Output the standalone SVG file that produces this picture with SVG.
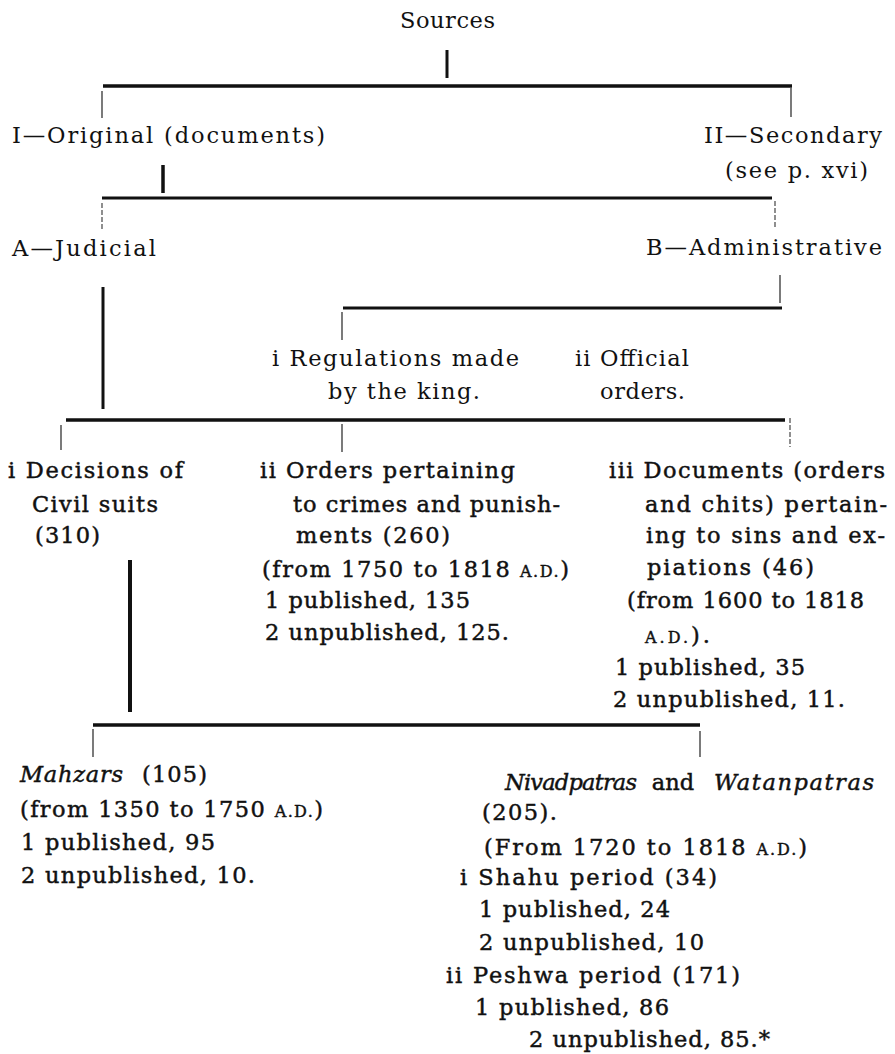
<svg xmlns="http://www.w3.org/2000/svg" width="895" height="1054" viewBox="0 0 895 1054">
<style>
  text { font-family: "DejaVu Serif", "Liberation Serif", serif; font-size: 22.5px; fill: #111; }
  .hv { stroke: #111; stroke-width: 0.45; }
  .it { font-style: italic; }
  .sc { font-size: 16px; }
  .thick { stroke: #111; stroke-width: 3.5; fill: none; }
  .med { stroke: #111; stroke-width: 3; fill: none; }
  .thin { stroke: #222; stroke-width: 1.2; fill: none; }
  .dash { stroke: #333; stroke-width: 1.1; fill: none; stroke-dasharray: 5 2; }
</style>
<rect width="895" height="1054" fill="#ffffff"/>

<g id="connectors">
  <line class="med" x1="447" y1="50" x2="447" y2="78"/>
  <line class="thick" x1="103" y1="86" x2="792" y2="86"/>
  <line class="thin" x1="102" y1="91" x2="102" y2="118"/>
  <line class="thin" x1="791" y1="88" x2="791" y2="117"/>

  <line class="thick" x1="163" y1="165" x2="163" y2="193"/>
  <line class="med" x1="102" y1="198" x2="772" y2="198"/>
  <line class="dash" x1="102" y1="203" x2="102" y2="230"/>
  <line class="dash" x1="775" y1="201" x2="775" y2="228"/>

  <line class="med" x1="103" y1="287" x2="103" y2="409"/>
  <line class="thin" x1="780" y1="275" x2="780" y2="303"/>
  <line class="med" x1="343" y1="308" x2="782" y2="308"/>
  <line class="thin" x1="342" y1="312" x2="342" y2="340"/>

  <line class="thick" x1="66" y1="420" x2="785" y2="420"/>
  <line class="thin" x1="61" y1="425" x2="61" y2="450"/>
  <line class="thin" x1="342" y1="424" x2="342" y2="452"/>
  <line class="dash" x1="790" y1="418" x2="790" y2="447"/>

  <line class="thick" x1="130" y1="560" x2="130" y2="712" style="stroke-width:4"/>
  <line class="thick" x1="93" y1="725" x2="700" y2="725"/>
  <line class="thin" x1="93" y1="729" x2="93" y2="757"/>
  <line class="thin" x1="700" y1="731" x2="700" y2="757"/>
</g>

<g id="sources">
  <text x="400" y="28" textLength="95">Sources</text>
</g>

<g id="original">
  <text x="12" y="143" textLength="313">I—Original  (documents)</text>
</g>

<g id="secondary">
  <text x="704" y="143" textLength="178">II—Secondary</text>
  <text x="725" y="178" textLength="143">(see p. xvi)</text>
</g>

<g id="judicial">
  <text x="12" y="256" textLength="144">A—Judicial</text>
</g>

<g id="administrative">
  <text x="646" y="255" textLength="236">B—Administrative</text>
</g>

<g id="regulations">
  <text x="272" y="366" textLength="247">i Regulations made</text>
  <text x="328" y="399" textLength="152">by the king.</text>
</g>

<g id="official">
  <text x="575" y="366" textLength="114">ii Official</text>
  <text x="600" y="399" textLength="85">orders.</text>
</g>

<g id="civil">
  <text class="hv" x="8" y="478" textLength="175">i Decisions of</text>
  <text class="hv" x="32" y="512" textLength="126">Civil suits</text>
  <text class="hv" x="35" y="543" textLength="65">(310)</text>
</g>

<g id="crimes">
  <text class="hv" x="260" y="478" textLength="255">ii Orders pertaining</text>
  <text class="hv" x="293" y="512" textLength="267">to crimes and punish-</text>
  <text class="hv" x="296" y="543" textLength="154">ments (260)</text>
  <text class="hv" x="262" y="577" textLength="307">(from 1750 to 1818 <tspan class="sc">A.D.</tspan>)</text>
  <text class="hv" x="265" y="608" textLength="205">1 published, 135</text>
  <text class="hv" x="265" y="640" textLength="244">2 unpublished, 125.</text>
</g>

<g id="sins">
  <text class="hv" x="609" y="478" textLength="276">iii Documents (orders</text>
  <text class="hv" x="645" y="512" textLength="242">and chits) pertain-</text>
  <text class="hv" x="646" y="543" textLength="239">ing to sins and ex-</text>
  <text class="hv" x="647" y="575" textLength="167">piations (46)</text>
  <text class="hv" x="627" y="608" textLength="237">(from 1600 to 1818</text>
  <text class="hv" x="645" y="643" textLength="65"><tspan class="sc">A.D.</tspan>).</text>
  <text class="hv" x="615" y="675" textLength="190">1 published, 35</text>
  <text class="hv" x="613" y="707" textLength="232">2 unpublished, 11.</text>
</g>

<g id="mahzars">
  <text class="hv it" x="20" y="782" textLength="103">Mahzars</text>
  <text class="hv" x="142" y="782" textLength="65">(105)</text>
  <text class="hv" x="20" y="817" textLength="303">(from 1350 to 1750 <tspan class="sc">A.D.</tspan>)</text>
  <text class="hv" x="21" y="850" textLength="194">1 published, 95</text>
  <text class="hv" x="21" y="883" textLength="234">2 unpublished, 10.</text>
</g>

<g id="nivadpatras">
  <text class="hv it" x="505" y="790" textLength="132">Nivadpatras</text>
  <text class="hv" x="673" y="790" text-anchor="middle">and</text>
  <text class="hv it" x="714" y="790" textLength="160">Watanpatras</text>
  <text class="hv" x="482" y="820" textLength="75">(205).</text>
  <text class="hv" x="484" y="855" textLength="323">(From 1720 to 1818 <tspan class="sc">A.D.</tspan>)</text>
  <text class="hv" x="460" y="885" textLength="257">i Shahu period (34)</text>
  <text class="hv" x="479" y="917" textLength="191">1 published, 24</text>
  <text class="hv" x="479" y="950" textLength="225">2 unpublished, 10</text>
  <text class="hv" x="446" y="983" textLength="294">ii Peshwa period (171)</text>
  <text class="hv" x="475" y="1015" textLength="194">1 published, 86</text>
  <text class="hv" x="529" y="1047" textLength="241">2 unpublished, 85.*</text>
</g>
</svg>
